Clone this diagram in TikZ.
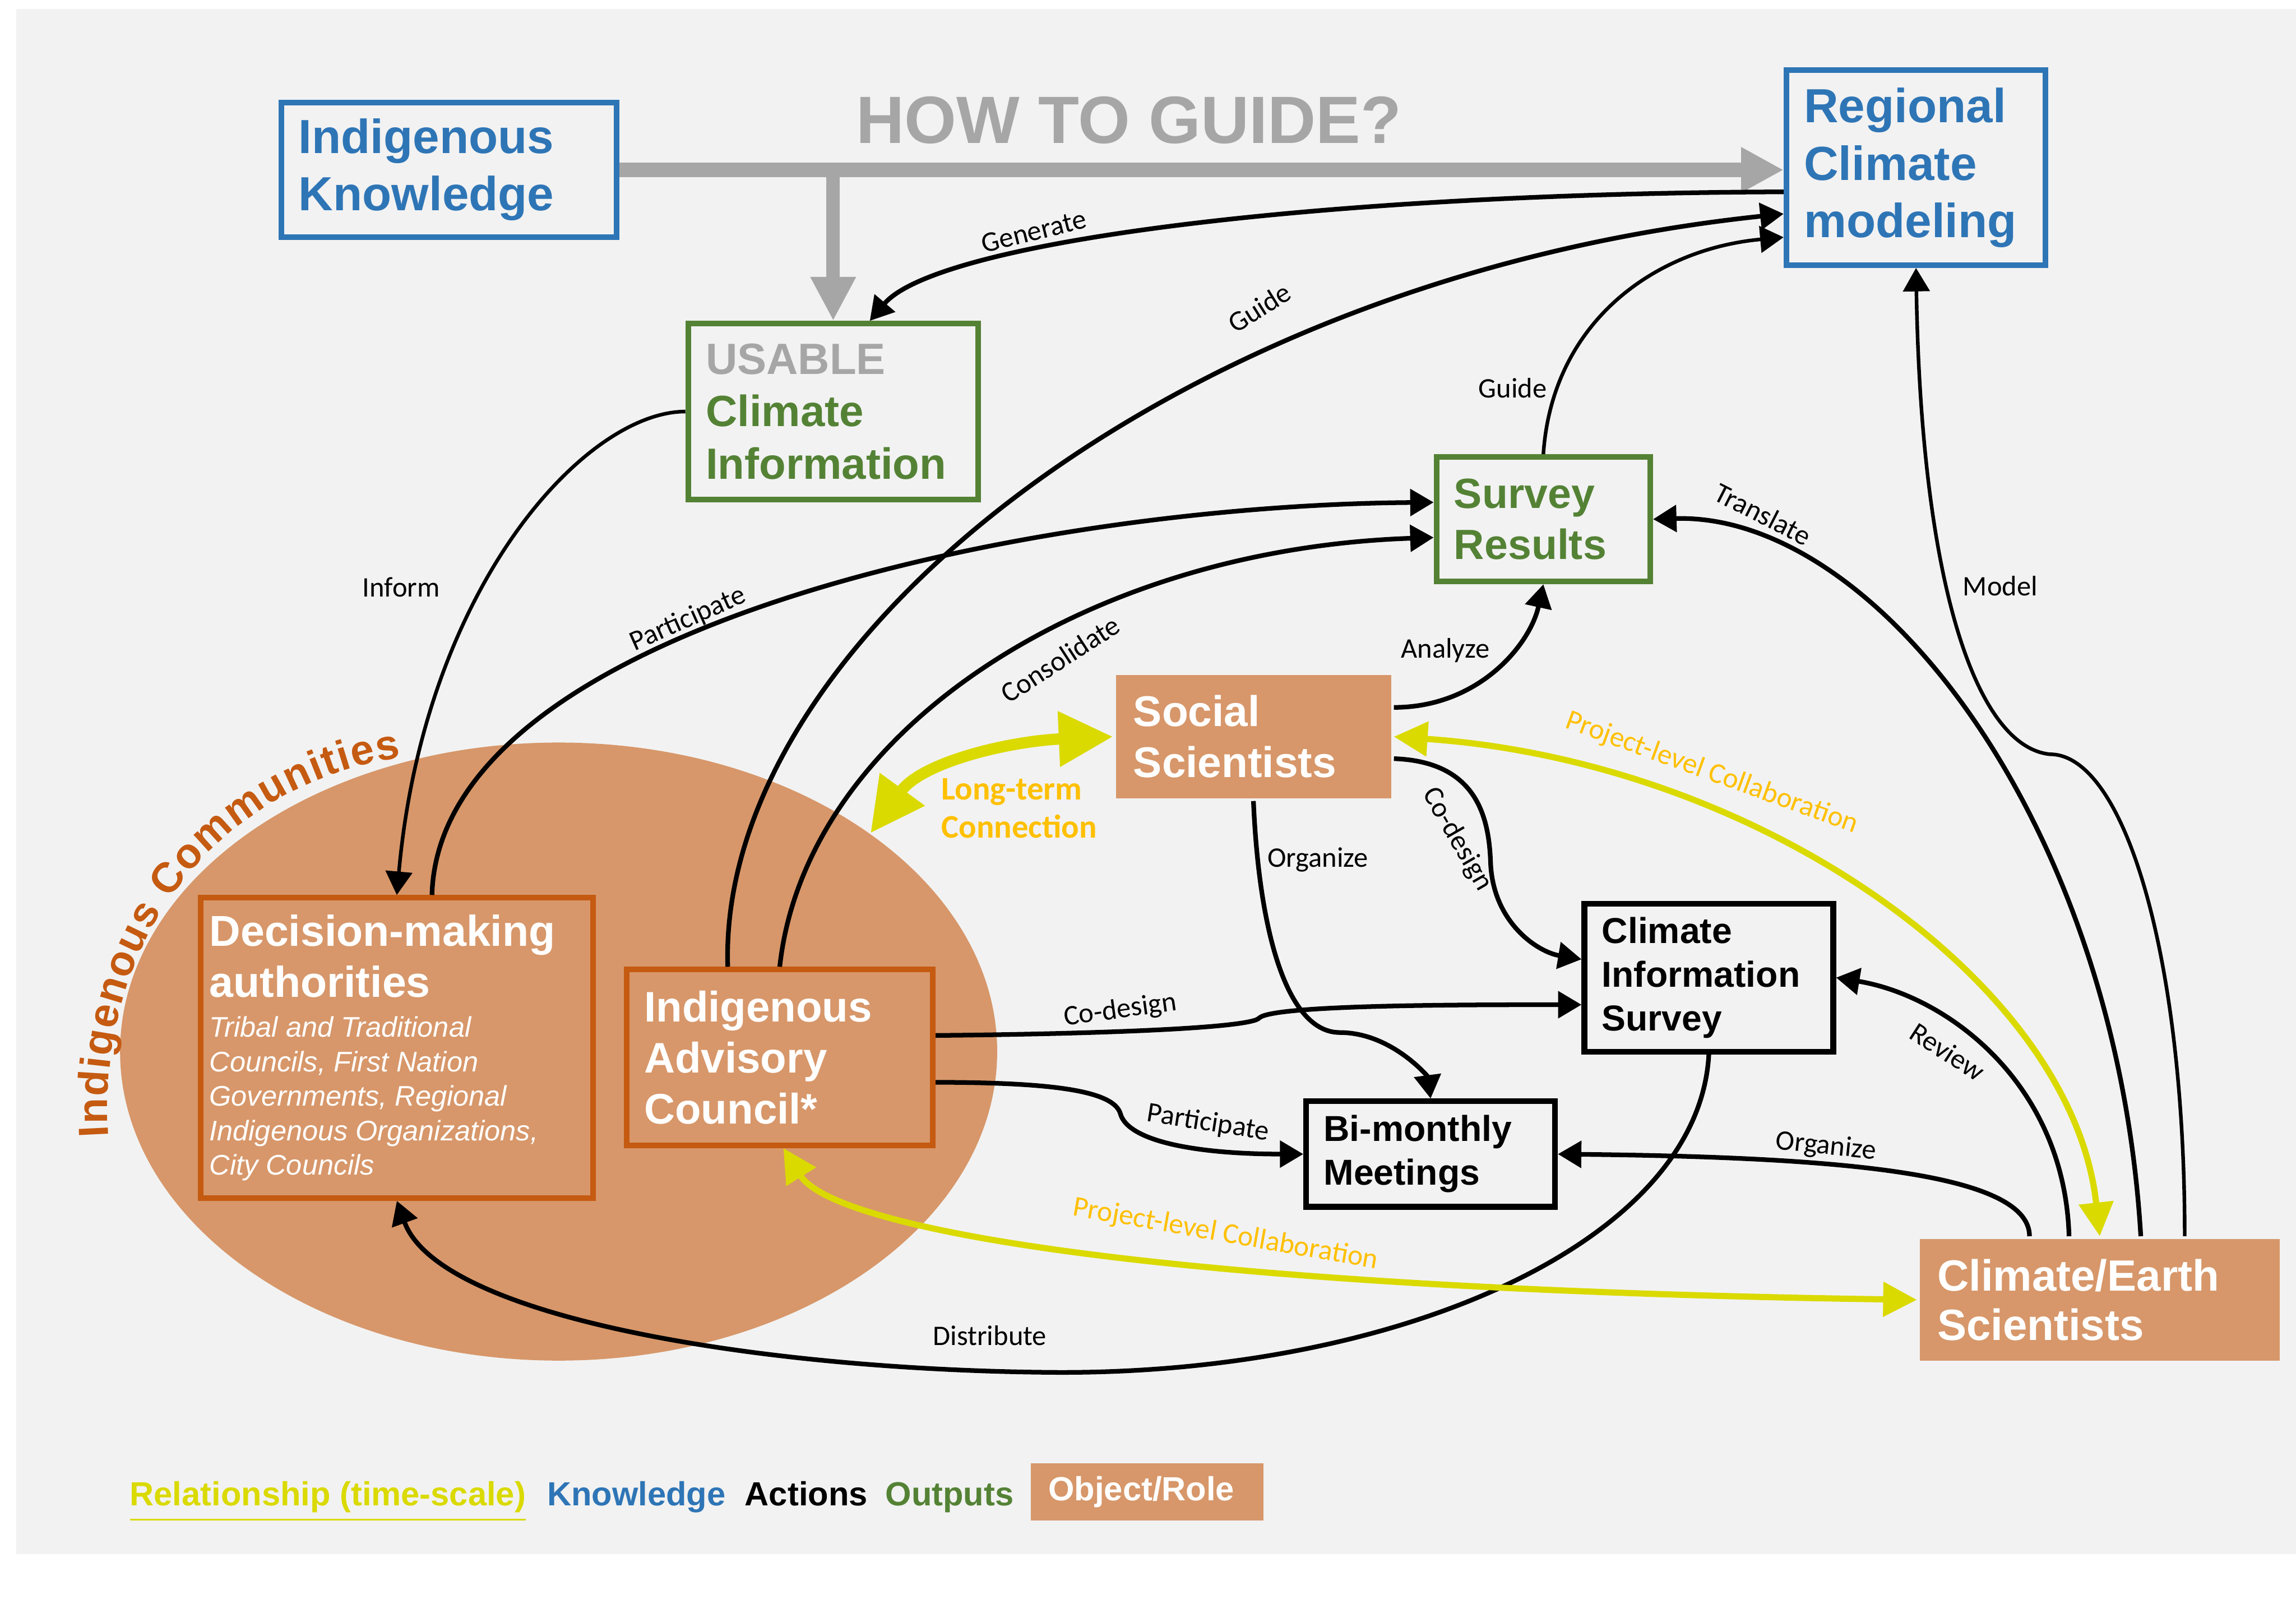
\documentclass[tikz,border=0pt]{standalone}
\usepackage{fontspec}
\setmainfont{Liberation Sans}
\newfontfamily\lblfont{Carlito}
\usetikzlibrary{arrows.meta,shapes.geometric,decorations.text}

\definecolor{bggray}{HTML}{F2F2F2}
\definecolor{rolefill}{HTML}{D7976A}
\definecolor{roleline}{HTML}{C55A11}
\definecolor{knowblue}{HTML}{2E75B6}
\definecolor{outgreen}{HTML}{548235}
\definecolor{howgray}{HTML}{A6A6A6}
\definecolor{relyellow}{HTML}{DADA00}
\definecolor{relorange}{HTML}{FFC000}

\newcommand{\fsz}[2]{\fontsize{#1}{#2}\selectfont}
\newcommand{\commfont}{\bfseries\fontsize{8.2}{9}\selectfont}

\tikzset{
  box/.style={rectangle, align=flush left, inner xsep=0.12cm, inner ysep=0pt, line width=1.1pt},
  knowbox/.style={box, draw=knowblue, fill=bggray, text=knowblue},
  outbox/.style={box, draw=outgreen, fill=bggray, text=outgreen},
  actbox/.style={box, draw=black, fill=bggray, text=black},
  rolebox/.style={box, fill=rolefill, text=white},
  rolelined/.style={rolebox, draw=roleline},
  act/.style={-{Triangle[length=1.6mm,width=1.8mm]}, line width=0.9pt},
  thinact/.style={act, line width=0.7pt},
  rel/.style={{Triangle[length=2.3mm,width=2.3mm]}-{Triangle[length=2.3mm,width=2.3mm]}, draw=relyellow, line width=1.2pt},
  longrel/.style={{Triangle[length=3.7mm,width=3.6mm]}-{Triangle[length=3.7mm,width=3.6mm]}, draw=relyellow, line width=2.2pt},
  lbl/.style={font=\lblfont\fsz{5.5}{6}, inner sep=0pt},
  rellbl/.style={lbl, text=relorange, font=\lblfont\fsz{5.6}{6}},
  legend/.style={anchor=base west, inner sep=0pt, font=\bfseries\fsz{6.5}{7}},
}

\begin{document}
\begin{tikzpicture}[x=0.1mm, y=-0.1mm]
\useasboundingbox (0,0) rectangle (1568,1101);
\fill[white] (0,0) rectangle (1568,1101);
\fill[bggray] (11,6) rectangle (1568,1061);

% the communities
\node[ellipse, fill=rolefill, minimum width=5.99cm, minimum height=4.22cm, inner sep=0pt] (comm) at (381.5,718) {};
\path[decorate, decoration={text along path, text align={fit to path}, text color=roleline,
  text={|\commfont|Indigenous Communities}}]
  (74,776) .. controls (66,650) and (140,538) .. (274,517);

% boxes
\node[knowbox, text width=2.05cm, minimum height=0.92cm, font=\bfseries\fsz{9.3}{11.1}] (ik) at (306.5,116) {Indigenous\\Knowledge};
\node[knowbox, text width=1.53cm, minimum height=1.33cm, font=\bfseries\fsz{9.3}{11.2}] (rcm) at (1308.5,114.5) {Regional\\Climate\\modeling};
\node[outbox, text width=1.74cm, minimum height=1.20cm, font=\bfseries\fsz{8.5}{10.2}] (usable) at (569,281) {\textcolor{howgray}{USABLE}\\Climate\\Information};
\node[outbox, text width=1.22cm, minimum height=0.85cm, font=\bfseries\fsz{8.2}{9.9}] (sr) at (1054,354.5) {Survey\\Results};
\node[rolebox, text width=1.64cm, minimum height=0.84cm, font=\bfseries\fsz{8.35}{9.9}] (ss) at (856,503) {Social\\Scientists};
\node[rolelined, inner xsep=0.06cm, text width=2.56cm, minimum height=2.05cm, font=\bfseries\fsz{8.4}{9.9}] (dma) at (271,715.5)
  {Decision-making\\authorities\par\vspace{1pt}
   {\mdseries\itshape\fsz{5.5}{6.7}Tribal and Traditional\\Councils, First Nation\\
    Governments, Regional\\Indigenous Organizations,\\City Councils\par}};
\node[rolelined, text width=1.85cm, minimum height=1.20cm, font=\bfseries\fsz{8.3}{9.9}] (iac) at (532.5,722) {Indigenous\\Advisory\\Council*};
\node[actbox, text width=1.46cm, minimum height=1.01cm, font=\bfseries\fsz{7}{8.5}] (cis) at (1167,667.5) {Climate\\Information\\Survey};
\node[actbox, text width=1.46cm, minimum height=0.72cm, font=\bfseries\fsz{7}{8.5}] (bm) at (977,788) {Bi-monthly\\Meetings};
\node[rolebox, text width=2.22cm, minimum height=0.83cm, font=\bfseries\fsz{8.5}{9.6}] (ces) at (1434,887.5) {Climate/Earth\\Scientists};

% how to guide
\node[text=howgray, font=\bfseries\fsz{13}{13}, inner sep=0pt] (how) at (771,82) {HOW TO GUIDE?};
\draw[howgray, line width=2.8pt, -{Triangle[length=2.9mm,width=2.9mm]}] (ik.east) -- (ik.east -| rcm.west);
\draw[howgray, line width=2.6pt, -{Triangle[length=3mm,width=2.9mm]}] (usable.north |- ik.east) -- (usable.north);

% actions
\draw[act] ([yshift=-0.165cm]rcm.west) .. controls (900,132) and (640,165) .. ([xshift=0.25cm]usable.north);
\node[lbl, rotate=14] (lgen) at (706,158) {Generate};
\draw[act] ([xshift=-0.355cm]iac.north) .. controls (490,440) and (800,190) .. ([yshift=-0.315cm]rcm.west);
\node[lbl, rotate=32] (lguide1) at (860,210) {Guide};
\draw[thinact] (sr.north) .. controls (1060,220) and (1130,170) .. ([yshift=-0.475cm]rcm.west);
\node[lbl] (lguide2) at (1033,265) {Guide};
\draw[thinact] (usable.west) .. controls (400,281) and (290,400) .. (dma.north);
\node[lbl] (linform) at (274,401) {Inform};
\draw[act] ([xshift=0.24cm]dma.north) .. controls (300,430) and (700,345) .. ([yshift=0.115cm]sr.west);
\node[lbl, rotate=24] (lpart1) at (470,423) {Participate};
\draw[act] (iac.north) .. controls (550,500) and (740,375) .. ([yshift=-0.125cm]sr.west);
\node[lbl, rotate=33] (lcons) at (724,450) {Consolidate};
\draw[act] ([yshift=0.2cm]ss.east) .. controls (1010,483) and (1045,440) .. (sr.south);
\node[lbl] (lanal) at (987,444) {Analyze};
\draw[act] ([xshift=0.28cm]ces.north) .. controls (1445,560) and (1280,350) .. (sr.east);
\node[lbl, rotate=-27] (ltrans) at (1204,351) {Translate};
\draw[thinact] ([xshift=0.58cm]ces.north) .. controls (1492,650) and (1450,515) .. (1400,515)
  .. controls (1350,510) and (1312,400) .. (rcm.south);
\node[lbl] (lmodel) at (1366,400) {Model};
\draw[act] ([xshift=-0.21cm]ces.north) .. controls (1410,740) and (1330,680) .. (cis.east);
\node[lbl, rotate=-33] (lrev) at (1330,718) {Review};
\draw[act] ([xshift=-0.48cm]ces.north) .. controls (1386,800) and (1250,790) .. (bm.east);
\node[lbl, rotate=-6] (lorg1) at (1247,783) {Organize};
\draw[act] (ss.south) .. controls (860,640) and (880,705) .. (915,705)
  .. controls (950,705) and (975,735) .. (bm.north);
\node[lbl] (lorg2) at (900,587) {Organize};
\draw[act] ([yshift=-0.15cm]ss.east) .. controls (1010,520) and (1017,560) .. (1018,590)
  .. controls (1020,630) and (1050,650) .. ([yshift=0.125cm]cis.west);
\node[lbl, rotate=-60] (lcod1) at (995,573) {Co-design};
\draw[act] ([yshift=0.15cm]iac.east) .. controls (750,706) and (855,702) .. (860,695)
  .. controls (870,686) and (1000,686) .. ([yshift=-0.185cm]cis.west);
\node[lbl, rotate=8] (lcod2) at (765,690) {Co-design};
\draw[act] ([yshift=-0.17cm]iac.east) .. controls (720,739) and (760,745) .. (765,760)
  .. controls (770,780) and (820,788) .. (bm.west);
\node[lbl, rotate=-9] (lpart2) at (825,767) {Participate};
\draw[act] (cis.south) .. controls (1160,850) and (950,940) .. (714,937)
  .. controls (520,935) and (300,900) .. (dma.south);
\node[lbl] (ldist) at (676,912) {Distribute};

% relationships
\draw[longrel] (comm.35) .. controls (630,520) and (690,506) .. (ss.west);
\node[font=\lblfont\bfseries\fsz{6.4}{7.4}, text=relorange, align=flush left, inner sep=0pt] (llong) at (696,552) {Long-term\\Connection};
\draw[rel] (ss.east) .. controls (1200,520) and (1415,670) .. (ces.north);
\node[rellbl, rotate=-20] (lproj1) at (1169,528) {Project-level Collaboration};
\draw[rel] ([xshift=0.025cm]iac.south) .. controls (570,840) and (800,880) .. (ces.west);
\node[rellbl, rotate=-10] (lproj2) at (837,843) {Project-level Collaboration};

% legend
\node[legend, text=relyellow] (legrel) at (88,1028) {\underline{Relationship (time-scale)}};
\node[legend, text=knowblue] (legknow) at (373,1028) {Knowledge};
\node[legend, text=black] (legact) at (508,1028) {Actions};
\node[legend, text=outgreen] (legout) at (604,1028) {Outputs};
\node[rolebox, text width=1.35cm, minimum height=0.39cm, font=\bfseries\fsz{6.5}{7}] (legrole) at (783.5,1018.5) {Object/Role};
\end{tikzpicture}
\end{document}
